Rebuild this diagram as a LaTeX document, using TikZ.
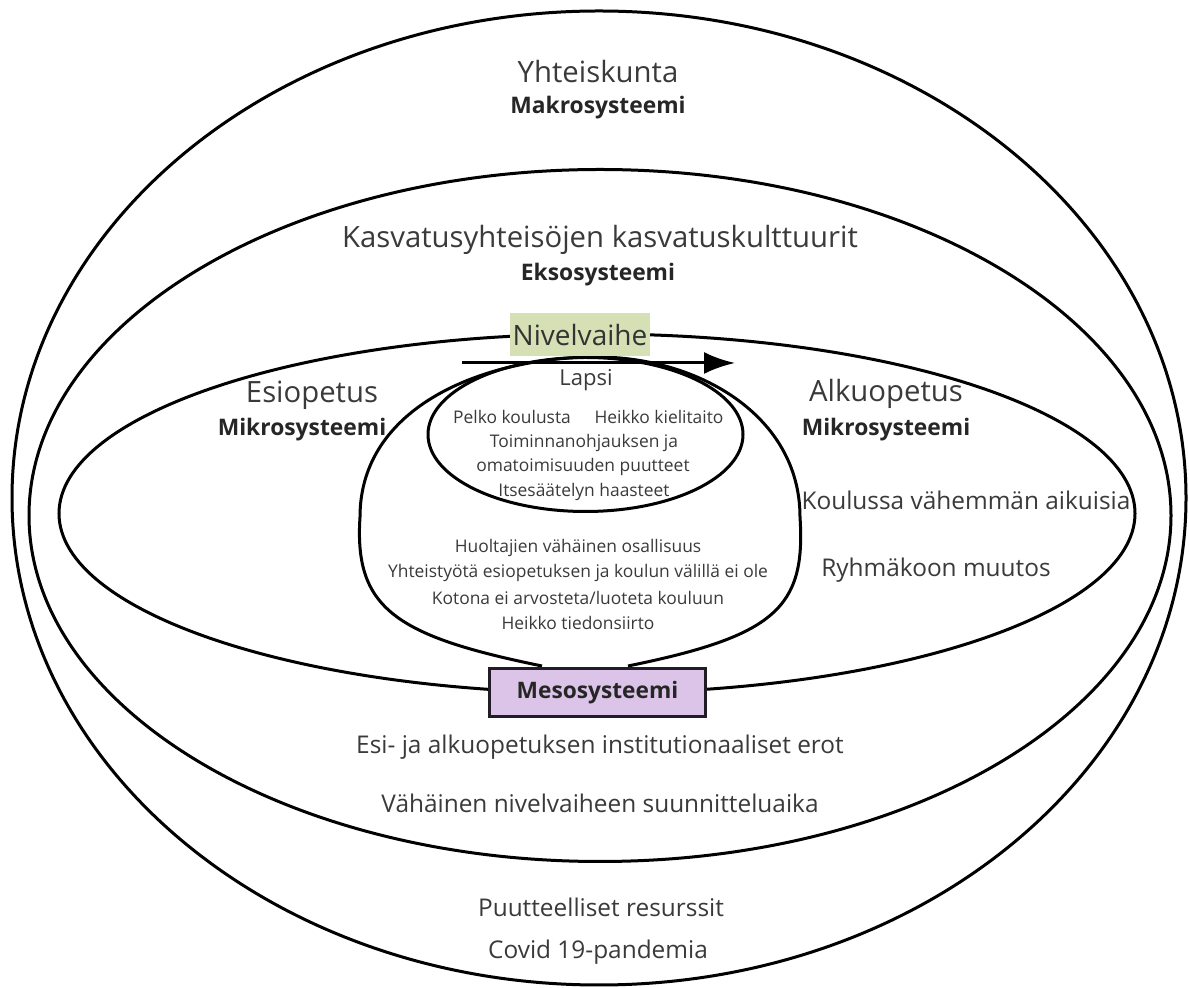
\documentclass[tikz,border=0pt]{standalone}
\usepackage{fontspec}
\setmainfont{Open Sans}
\usetikzlibrary{arrows.meta}
\definecolor{txtgray}{HTML}{3A3A3A}
\definecolor{nivelgreen}{HTML}{D5E0B5}
\definecolor{mesopurple}{HTML}{DCC4E8}
\definecolor{boxline}{HTML}{221C26}

\begin{document}
\begin{tikzpicture}[x=1pt,y=1pt,>={Latex[length=31pt,width=22pt]},
	ring/.style = {draw,line width=3pt},
	big/.style = {text=txtgray,font=\fontsize{29.3}{34}\selectfont},
	mid/.style = {text=txtgray,font=\fontsize{24.4}{29}\selectfont},
	small/.style = {text=txtgray,font=\fontsize{17.4}{21}\selectfont},
	sys/.style = {text=black!85,font=\fontsize{22.8}{27}\selectfont\bfseries}
	]
	\useasboundingbox[fill=white] (0,0) rectangle (1189,988);
	%RENGAAT
	\draw[ring] (599,490) ellipse [x radius=587, y radius=487];
	\draw[ring] (600,472.5) ellipse [x radius=571, y radius=346];
	\draw[ring] (597,474.5) ellipse [x radius=538, y radius=179.5];
	\draw[ring] (542,322) .. controls (395,352) and (354,380) .. (360,471) to [out=90, in=180] (597,631)
		to [out=0, in=90] (800,471) .. controls (806,380) and (775,352) .. (628,322);
	\draw[ring] (585.5,553.5) ellipse [x radius=157.5, y radius=77];
	%NUOLI
	\coordinate (alku) at (462,625);
	\coordinate (loppu) at (735,625);
	\draw[->,line width=3pt] (alku) -- (loppu);
	%LAATIKOT
	\node[fill=nivelgreen,minimum width=140pt,minimum height=43pt,inner sep=0pt,
		text=black!80,font=\fontsize{28}{32}\selectfont] (nivel) at (580,653) {Nivelvaihe};
	\node[draw=boxline,line width=3.5pt,fill=mesopurple,minimum width=216pt,minimum height=48pt,
		inner sep=0pt,text=black!85,font=\fontsize{22.7}{27}\selectfont\bfseries] (meso) at (597.5,295.5) {Mesosysteemi};
	%MAKRO JA EKSO
	\node[big] (yht) at (598,916) {Yhteiskunta};
	\node[sys] (makro) at (598,880) {Makrosysteemi};
	\node[big] (kasv) at (600,748) {Kasvatusyhteisöjen kasvatuskulttuurit};
	\node[sys] (ekso) at (598,713) {Eksosysteemi};
	%MIKRO
	\node[big] (esi) at (312,593) {Esiopetus};
	\node[sys] (mikro1) at (302,558) {Mikrosysteemi};
	\node[big] (alkuop) at (886,594) {Alkuopetus};
	\node[sys] (mikro2) at (886,558) {Mikrosysteemi};
	\node[mid] (koulu) at (966,488) {Koulussa vähemmän aikuisia};
	\node[mid] (ryhma) at (936,418) {Ryhmäkoon muutos};
	%LAPSI
	\node[text=txtgray,font=\fontsize{22}{26}\selectfont] (lapsi) at (586,608) {Lapsi};
	\node[small] (pelko) at (512,571) {Pelko koulusta};
	\node[small] (kieli) at (659,571) {Heikko kielitaito};
	\node[small] (toim) at (584,545) {Toiminnanohjauksen ja};
	\node[small] (omat) at (583,521) {omatoimisuuden puutteet};
	\node[small] (itse) at (584,496) {Itsesäätelyn haasteet};
	%MESO
	\node[small] (huolt) at (578,440) {Huoltajien vähäinen osallisuus};
	\node[small] (yhteis) at (578,415) {Yhteistyötä esiopetuksen ja koulun välillä ei ole};
	\node[small] (koti) at (578,390) {Kotona ei arvosteta/luoteta kouluun};
	\node[small] (tieto) at (578,365) {Heikko tiedonsiirto};
	%ALAREUNA
	\node[mid] (erot) at (600,241) {Esi- ja alkuopetuksen institutionaaliset erot};
	\node[mid] (aika) at (600,185) {Vähäinen nivelvaiheen suunnitteluaika};
	\node[mid] (resu) at (601,81) {Puutteelliset resurssit};
	\node[mid] (covid) at (598,36) {Covid 19-pandemia};
\end{tikzpicture}
\end{document}
